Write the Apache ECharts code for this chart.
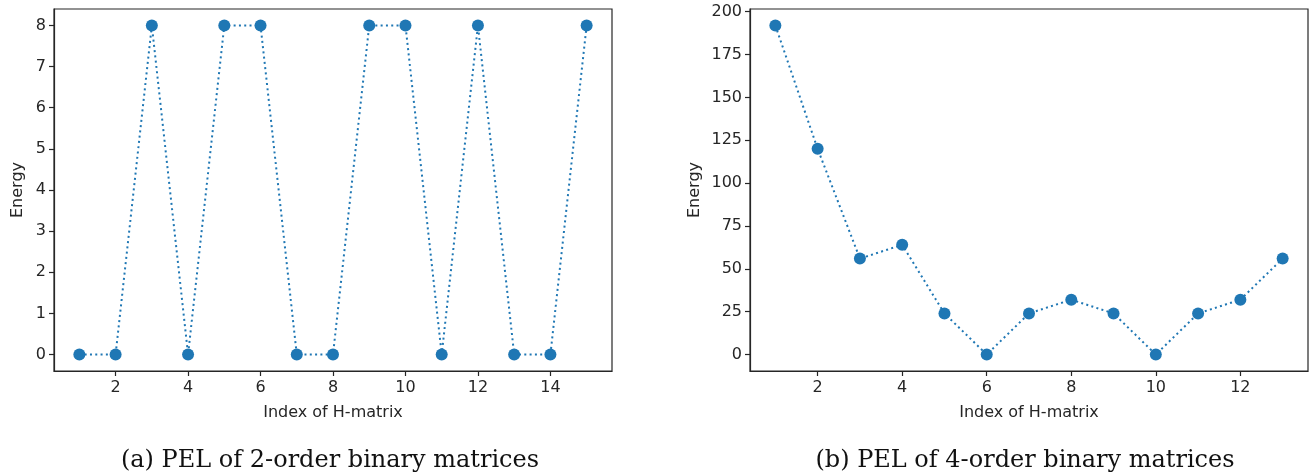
<!DOCTYPE html>
<html><head><meta charset="utf-8">
<script src="https://cdn.jsdelivr.net/npm/echarts@6/dist/echarts.min.js"></script>
<style>html,body{margin:0;padding:0;background:#fff}#c{width:1315px;height:475px}</style>
</head><body><div id="c"></div>
<script>
const xA = [1,2,3,4,5,6,7,8,9,10,11,12,13,14,15];
const yA = [0,0,8,0,8,8,0,0,8,8,0,8,0,0,8];
const xB = [1,2,3,4,5,6,7,8,9,10,11,12,13];
const yB = [192,120,56,64,24,0,24,32,24,0,24,32,56];
const xTicksA = [2,4,6,8,10,12,14];
const yTicksA = [0,1,2,3,4,5,6,7,8];
const xTicksB = [2,4,6,8,10,12];
const yTicksB = [0,25,50,75,100,125,150,175,200];
const captionA = '(a) PEL of 2-order binary matrices';
const captionB = '(b) PEL of 4-order binary matrices';
const xName = 'Index of H-matrix';
const yName = 'Energy';

const blue = '#1f77b4';
const axCol = '#262626';
const lbl = {color:'#262626', fontSize:16, fontFamily:'DejaVu Sans'};
function xAx(idx, min, max, ticks){
  return {type:'value', gridIndex:idx, min:min, max:max, name:xName, nameLocation:'middle', nameGap:34,
    nameTextStyle:Object.assign({}, lbl),
    axisLine:{onZero:false, lineStyle:{color:axCol, width:1.2}},
    axisTick:{length:5, lineStyle:{color:axCol, width:1.2}, customValues:ticks},
    axisLabel:Object.assign({margin:9, customValues:ticks}, lbl),
    splitLine:{show:false}};
}
function yAx(idx, min, max, ticks, gap){
  return {type:'value', gridIndex:idx, min:min, max:max, name:yName, nameLocation:'middle', nameGap:gap,
    nameTextStyle:Object.assign({}, lbl),
    axisLine:{onZero:false, lineStyle:{color:axCol, width:1.2}},
    axisTick:{length:5, lineStyle:{color:axCol, width:1.2}, customValues:ticks},
    axisLabel:Object.assign({margin:8, customValues:ticks}, lbl),
    splitLine:{show:false}};
}
function ser(idx, xs, ys){
  return {type:'line', xAxisIndex:idx, yAxisIndex:idx, data:xs.map((x,i)=>[x, ys[i]]),
    symbol:'circle', symbolSize:12, itemStyle:{color:blue},
    lineStyle:{color:blue, width:2, type:[2,3.3], cap:'butt'}, animation:false};
}
const chart = echarts.init(document.getElementById('c'), null, {renderer:'canvas'});
chart.setOption({
  animation:false,
  title:[
    {text:captionA, left:325, top:444, textAlign:'center', textStyle:{fontFamily:'DejaVu Serif', fontWeight:'normal', fontSize:24, color:'#111'}},
    {text:captionB, left:1020, top:444, textAlign:'center', textStyle:{fontFamily:'DejaVu Serif', fontWeight:'normal', fontSize:24, color:'#111'}}
  ],
  grid:[
    {left:54, right:703, top:9, bottom:104, show:true, borderColor:axCol, borderWidth:1.2, containLabel:false},
    {left:750, right:7, top:9, bottom:104, show:true, borderColor:axCol, borderWidth:1.2, containLabel:false}
  ],
  xAxis:[xAx(0, 0.3, 15.7, xTicksA), xAx(1, 0.4, 13.6, xTicksB)],
  yAxis:[yAx(0, -0.4, 8.4, yTicksA, 28), yAx(1, -9.6, 201.6, yTicksB, 47)],
  series:[ser(0, xA, yA), ser(1, xB, yB)]
});
</script></body></html>
